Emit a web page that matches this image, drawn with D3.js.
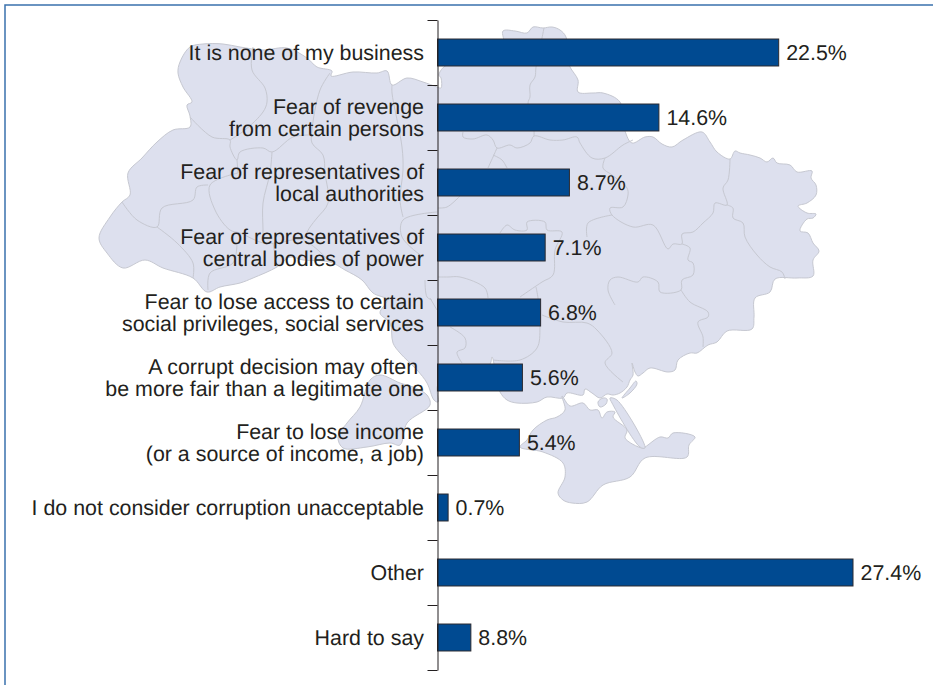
<!DOCTYPE html>
<html>
<head>
<meta charset="utf-8">
<script src="https://cdn.jsdelivr.net/npm/d3@7"></script>
<style>
    html, body { margin: 0; padding: 0; background: #fff; }
    svg { display: block; }
    text { text-rendering: geometricPrecision; }
</style>
</head>
<body>
<svg id="chart"></svg>
<script>
const categories = [
    ["It is none of my business"],
    ["Fear of revenge", "from certain persons"],
    ["Fear of representatives of", "local authorities"],
    ["Fear of representatives of", "central bodies of power"],
    ["Fear to lose access to certain", "social privileges, social services"],
    ["A corrupt decision may often\u00a0", "be more fair than a legitimate one"],
    ["Fear to lose income", "(or a source of income, a job)"],
    ["I do not consider corruption unacceptable"],
    ["Other"],
    ["Hard to say"]
];
const valueLabels = ["22.5%", "14.6%", "8.7%", "7.1%", "6.8%", "5.6%", "5.4%", "0.7%", "27.4%", "8.8%"];
// last bar is printed short in the original, label says 8.8 but the length reads 2.2
const barValues = [22.5, 14.6, 8.7, 7.1, 6.8, 5.6, 5.4, 0.7, 27.4, 2.2];

// background map
const mainland = [[99,238],[110,217],[122,202],[130,195],[128,173],[142,158],[157,142],[173,130],[190,127],[190,116],[187,105],[192,102],[183,87],[178,73],[180,62],[190,47],[203,44],[223,44],[240,47],[263,50],[287,48],[307,58],[317,67],[332,71],[331,76],[353,72],[377,73],[387,71],[392,85],[407,78],[423,82],[437,87],[441,88],[441,78],[439,75],[445,66],[503,45],[503,31],[515,31],[527,33],[533,27],[543,28],[552,27],[560,30],[566,37],[568,60],[570,67],[578,80],[578,92],[593,93],[603,93],[620,102],[625,131],[632,143],[645,137],[653,137],[662,144],[672,147],[683,140],[702,132],[710,142],[717,152],[730,159],[735,151],[740,153],[750,155],[760,158],[767,162],[773,158],[777,163],[790,165],[797,172],[812,171],[811,178],[816,185],[816,195],[807,203],[798,206],[807,213],[816,214],[813,218],[807,219],[800,231],[808,233],[813,243],[819,251],[813,260],[813,276],[797,278],[775,279],[770,292],[755,298],[754,317],[752,329],[727,331],[717,342],[708,345],[697,353],[690,353],[678,360],[675,370],[668,372],[650,368],[643,373],[638,376],[635,372],[632,363],[633,375],[630,380],[627,387],[620,393],[613,395],[607,394],[600,398],[592,393],[585,389],[583,395],[567,393],[563,398],[547,397],[537,402],[517,403],[507,400],[500,392],[495,375],[494,364],[492,357],[490,364],[470,378],[438,385],[438,402],[434,400],[427,383],[417,370],[400,353],[393,343],[390,323],[380,313],[387,300],[373,293],[362,280],[345,270],[330,262],[303,260],[290,257],[277,267],[253,278],[240,283],[220,287],[207,292],[193,278],[163,268],[145,260],[123,268],[107,253]];
const southWest = [[380,375],[370,380],[360,407],[347,423],[338,437],[343,448],[367,447],[390,443],[400,445],[407,423],[430,405],[427,395],[413,387],[400,383]];
const crimea = [[562,396],[565,410],[557,417],[547,420],[533,430],[527,440],[520,447],[543,452],[563,463],[565,477],[558,493],[563,500],[572,503],[587,502],[603,485],[630,477],[645,458],[687,457],[689,445],[695,437],[673,433],[668,438],[660,437],[645,447],[642,448],[625,438],[627,430],[613,417],[615,412],[607,412],[602,418],[598,410],[590,410],[583,403],[570,406]];
const arabatSpit = [[645,448],[617,400],[610,398],[612,403],[640,447]];
const azovSpit = [[622,398],[630,388],[636,381],[637,384],[630,393]];
const sivashIsland = [[598,402],[603,398],[607,399],[606,404],[600,407]];
const mapShapes = [mainland, southWest, crimea, arabatSpit, azovSpit, sivashIsland];
const mapBorders = [
    [[253,47],[252,70],[265,88],[267,102],[263,112],[245,130],[230,140]],
    [[190,117],[212,137],[230,140],[230,147],[237,160],[240,152],[263,148],[272,152],[293,137],[310,135]],
    [[272,152],[270,173],[263,203],[263,230],[263,243]],
    [[330,73],[320,90],[312,130],[312,143],[323,155],[325,173],[328,203],[317,218],[310,227],[303,240]],
    [[392,85],[392,93],[402,147],[403,170],[400,200],[403,217]],
    [[437,212],[403,220],[402,237],[423,257]],
    [[425,280],[427,297],[432,300]],
    [[238,173],[210,185],[215,210],[230,230],[240,233],[263,243],[277,243],[303,240],[330,262]],
    [[238,173],[237,160]],
    [[208,185],[197,187],[193,200],[162,208],[157,227],[137,220],[122,202]],
    [[157,227],[177,243],[193,263],[193,278]],
    [[208,290],[210,273],[233,263],[237,243]],
    [[273,243],[277,267]],
    [[544,28],[542,38],[536,67],[535,77],[530,85],[530,97],[528,103],[534,131],[534,136]],
    [[463,132],[463,137],[473,139],[487,135],[493,140],[497,148],[510,145],[517,148],[530,143],[534,136],[550,140],[563,140],[577,137],[580,143],[592,158],[605,158],[623,145],[633,140]],
    [[497,148],[493,157],[488,168]],
    [[493,155],[502,160],[507,168]],
    [[605,158],[603,168],[612,175],[627,188],[628,195],[623,207],[610,208],[612,215],[633,227],[653,225],[668,249],[673,244],[682,244],[682,234],[693,232],[703,223],[713,213],[715,203],[727,205],[723,188],[728,180],[730,159]],
    [[727,205],[733,208],[733,218],[743,223],[745,237],[757,255],[770,267],[782,272],[785,279]],
    [[682,244],[690,248],[688,260],[693,263],[693,275],[682,280],[681,290],[660,292],[658,282],[643,277],[638,282],[618,277],[610,280],[608,290],[615,305]],
    [[681,290],[690,302],[708,312],[708,317],[698,322],[703,337],[703,347]],
    [[612,215],[588,223],[587,237]],
    [[500,233],[507,225],[515,230],[527,230],[527,222],[545,222],[547,230],[562,232],[555,250],[553,275],[542,282],[520,297]],
    [[536,287],[538,298],[540,327],[537,348],[520,360],[493,360]],
    [[542,315],[563,322],[587,323],[597,330],[612,353],[605,363],[623,382]],
    [[438,277],[448,277],[460,277],[485,288],[488,298]],
    [[450,327],[465,338],[465,348],[457,352],[462,363]],
    [[430,298],[437,310]],
    [[460,196],[447,207],[438,208]]
];

const width = 933;
const height = 685;
const axisX = 437.5;
const fontFamily = "'Liberation Sans', Arial, sans-serif";
const fontSize = 21.4;
const textColor = "#231f20";

const svg = d3.select("#chart")
    .attr("width", width)
    .attr("height", height);

const line = d3.line().curve(d3.curveLinear);
const borderLine = d3.line().curve(d3.curveCatmullRom);
const shapeLine = d3.line().curve(d3.curveCatmullRomClosed);

// frame, only top and left sides
svg.append("path")
    .attr("d", line([[5, height], [5, 5], [width, 5]]))
    .attr("fill", "none")
    .attr("stroke", "#3a72ad")
    .attr("stroke-width", 1.5);

// map
const map = svg.append("g");

map.selectAll("path.shape")
    .data(mapShapes)
    .join("path")
    .attr("class", "shape")
    .attr("d", shapeLine)
    .attr("fill", "#dde0ee")
    .attr("stroke", "#c6c8d1")
    .attr("stroke-width", 1)
    .attr("stroke-linejoin", "round");

map.selectAll("path.border")
    .data(mapBorders)
    .join("path")
    .attr("class", "border")
    .attr("d", borderLine)
    .attr("fill", "none")
    .attr("stroke", "#c6c8d1")
    .attr("stroke-width", 1)
    .attr("stroke-linejoin", "round");

// scales
const xScale = d3.scaleLinear()
    .domain([0, 27.4])
    .range([axisX, 853]);

const yScale = d3.scaleBand()
    .domain(d3.range(categories.length))
    .range([20, 670])
    .paddingInner(0.585)
    .paddingOuter(0.2925);

const tickScale = d3.scaleLinear()
    .domain([0, categories.length])
    .range([20, 670]);

// bars
svg.append("g")
    .selectAll("rect")
    .data(barValues)
    .join("rect")
    .attr("x", axisX)
    .attr("y", (d, i) => yScale(i))
    .attr("width", d => xScale(d) - axisX)
    .attr("height", yScale.bandwidth())
    .attr("fill", "#004a91")
    .attr("stroke", "#2b2a30")
    .attr("stroke-width", 1);

// axis, ticks sit between the bars
const yAxis = svg.append("g")
    .attr("transform", `translate(${axisX}, 0)`)
    .call(d3.axisLeft(tickScale)
        .tickValues(d3.range(categories.length + 1))
        .tickFormat("")
        .tickSize(10)
        .tickSizeOuter(0));

yAxis.selectAll("path, line")
    .attr("stroke", textColor)
    .attr("stroke-width", 1);

// category labels
const labels = svg.append("g")
    .selectAll("text")
    .data(categories)
    .join("text")
    .attr("font-family", fontFamily)
    .attr("font-size", fontSize + "px")
    .attr("fill", textColor)
    .attr("text-anchor", "end")
    .attr("y", (d, i) => yScale(i) + yScale.bandwidth() / 2 + 7.5);

labels.selectAll("tspan")
    .data(d => d.map((t, j) => ({ t: t, dy: (j - (d.length - 1) / 2) * 21.7 })))
    .join("tspan")
    .attr("x", 424)
    .attr("dy", (d, j) => j == 0 ? d.dy : 21.7)
    .text(d => d.t);

// value labels
svg.append("g")
    .selectAll("text")
    .data(valueLabels)
    .join("text")
    .attr("font-family", fontFamily)
    .attr("font-size", fontSize + "px")
    .attr("fill", textColor)
    .attr("x", (d, i) => xScale(barValues[i]) + 7.5)
    .attr("y", (d, i) => yScale(i) + yScale.bandwidth() / 2 + 7.5)
    .text(d => d);
</script>
</body>
</html>
